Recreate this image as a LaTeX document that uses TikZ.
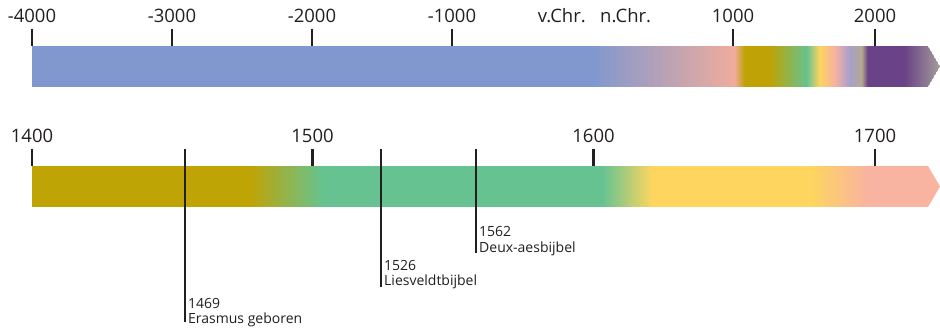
\documentclass[tikz,border=0pt]{standalone}
\usepackage{fontspec}
\setmainfont{Open Sans}
\definecolor{ink}{HTML}{231F20}
\definecolor{cblue}{HTML}{8198CF}
\definecolor{csalmon}{HTML}{F0AC9C}
\definecolor{colive}{HTML}{BFA306}
\definecolor{cgreen}{HTML}{66C28F}
\definecolor{cyellow}{HTML}{FDD460}
\definecolor{csalmonb}{HTML}{F7B2A0}
\definecolor{clav}{HTML}{A8A0CC}
\definecolor{cbeige}{HTML}{B4AA90}
\definecolor{cpurple}{HTML}{6A4287}
\definecolor{cgrey}{HTML}{A39C9A}
\definecolor{bolive}{HTML}{BFA405}
\definecolor{bgreen}{HTML}{66C391}
\definecolor{byellow}{HTML}{FDD55F}
\definecolor{bsalmon}{HTML}{F9B3A1}
% gradient segment drawn as thin strips: x1, x2, left colour, right colour, ytop, ybottom
\newcommand{\gradseg}[6]{%
  \pgfmathtruncatemacro\gsN{#2-#1}%
  \pgfmathtruncatemacro\gsM{\gsN-1}%
  \foreach \gsi in {0,...,\gsM}{%
    \pgfmathtruncatemacro\gsp{100*(\gsi+0.5)/\gsN}%
    \fill[#4!\gsp!#3] (#1+\gsi,#5) rectangle (#1+\gsi+1.4,#6);
  }%
}
\begin{document}
\begin{tikzpicture}[x=1pt,y=-1pt,
  tick/.style={draw=ink,line width=2.2pt},
  evline/.style={draw=ink,line width=2pt},
  toplab/.style={inner sep=0pt,anchor=base,text=ink,font=\fontsize{18.5}{22}\selectfont},
  evlab/.style={inner sep=0pt,anchor=north west,align=left,text=ink,font=\fontsize{14}{15.5}\selectfont}]
\useasboundingbox[fill=white] (0,0) rectangle (940,328);
% ---------- top bar ----------
\fill[cblue] (32,46) rectangle (593.6,87);
\gradseg{593}{735}{cblue}{csalmon}{46}{87}
\gradseg{735}{745}{csalmon}{colive}{46}{87}
\fill[colive] (745,46) rectangle (770.6,87);
\gradseg{770}{807}{colive}{cgreen}{46}{87}
\gradseg{807}{820}{cgreen}{cyellow}{46}{87}
\gradseg{820}{835}{cyellow}{csalmonb}{46}{87}
\gradseg{835}{850}{csalmonb}{clav}{46}{87}
\gradseg{850}{862}{clav}{cbeige}{46}{87}
\gradseg{862}{868}{cbeige}{cpurple}{46}{87}
\fill[cpurple] (868,46) rectangle (905.6,87.5);
\begin{scope}
  \clip (905,46) -- (928,46) -- (940,66.5) -- (928,87) -- (905,87) -- cycle;
  \gradseg{905}{940}{cpurple}{cgrey}{46}{87}
\end{scope}
% ---------- bottom bar ----------
\fill[bolive] (32,166) rectangle (250.6,207);
\gradseg{250}{323}{bolive}{bgreen}{166}{207}
\fill[bgreen] (323,166) rectangle (603.6,207);
\gradseg{603}{652}{bgreen}{byellow}{166}{207}
\fill[byellow] (652,166) rectangle (812.6,207);
\gradseg{812}{868}{byellow}{bsalmon}{166}{207}
\fill[bsalmon] (868,166) -- (928,166) -- (940,186.5) -- (928,207) -- (868,207) -- cycle;
% ---------- top ticks & labels ----------
\foreach \n/\x in {m4000/32,m3000/172,m2000/312,m1000/452,p1000/733,p2000/875}{
  \coordinate (ta\n) at (\x,29);
  \coordinate (tb\n) at (\x,46);
  \draw[tick] (ta\n) -- (tb\n);
}
\node[toplab] (lm4000) at (32,23) {-4000};
\node[toplab] (lm3000) at (172,23) {-3000};
\node[toplab] (lm2000) at (312,23) {-2000};
\node[toplab] (lm1000) at (452,23) {-1000};
\node[toplab,anchor=base east] (lvchr) at (586,23) {v.Chr.};
\node[toplab,anchor=base west] (lnchr) at (600,23) {n.Chr.};
\node[toplab] (lp1000) at (733,23) {1000};
\node[toplab] (lp2000) at (875,23) {2000};
% ---------- bottom ticks & labels ----------
\foreach \n/\x in {1400/32,1500/312.5,1600/593.5,1700/875}{
  \coordinate (ua\n) at (\x,149);
  \coordinate (ub\n) at (\x,166);
  \draw[tick] (ua\n) -- (ub\n);
  \node[toplab] (lb\n) at (\x,143) {\n};
}
% ---------- events ----------
\coordinate (ea1469) at (185,149);
\coordinate (eb1469) at (185,322);
\draw[evline] (ea1469) -- (eb1469);
\node[evlab] (ev1469) at (188,298) {1469\\Erasmus geboren};
\coordinate (ea1526) at (381,149);
\coordinate (eb1526) at (381,287);
\draw[evline] (ea1526) -- (eb1526);
\node[evlab] (ev1526) at (384,260) {1526\\Liesveldtbijbel};
\coordinate (ea1562) at (476,149);
\coordinate (eb1562) at (476,253);
\draw[evline] (ea1562) -- (eb1562);
\node[evlab] (ev1562) at (479,226.5) {1562\\Deux-aesbijbel};
\end{tikzpicture}
\end{document}
